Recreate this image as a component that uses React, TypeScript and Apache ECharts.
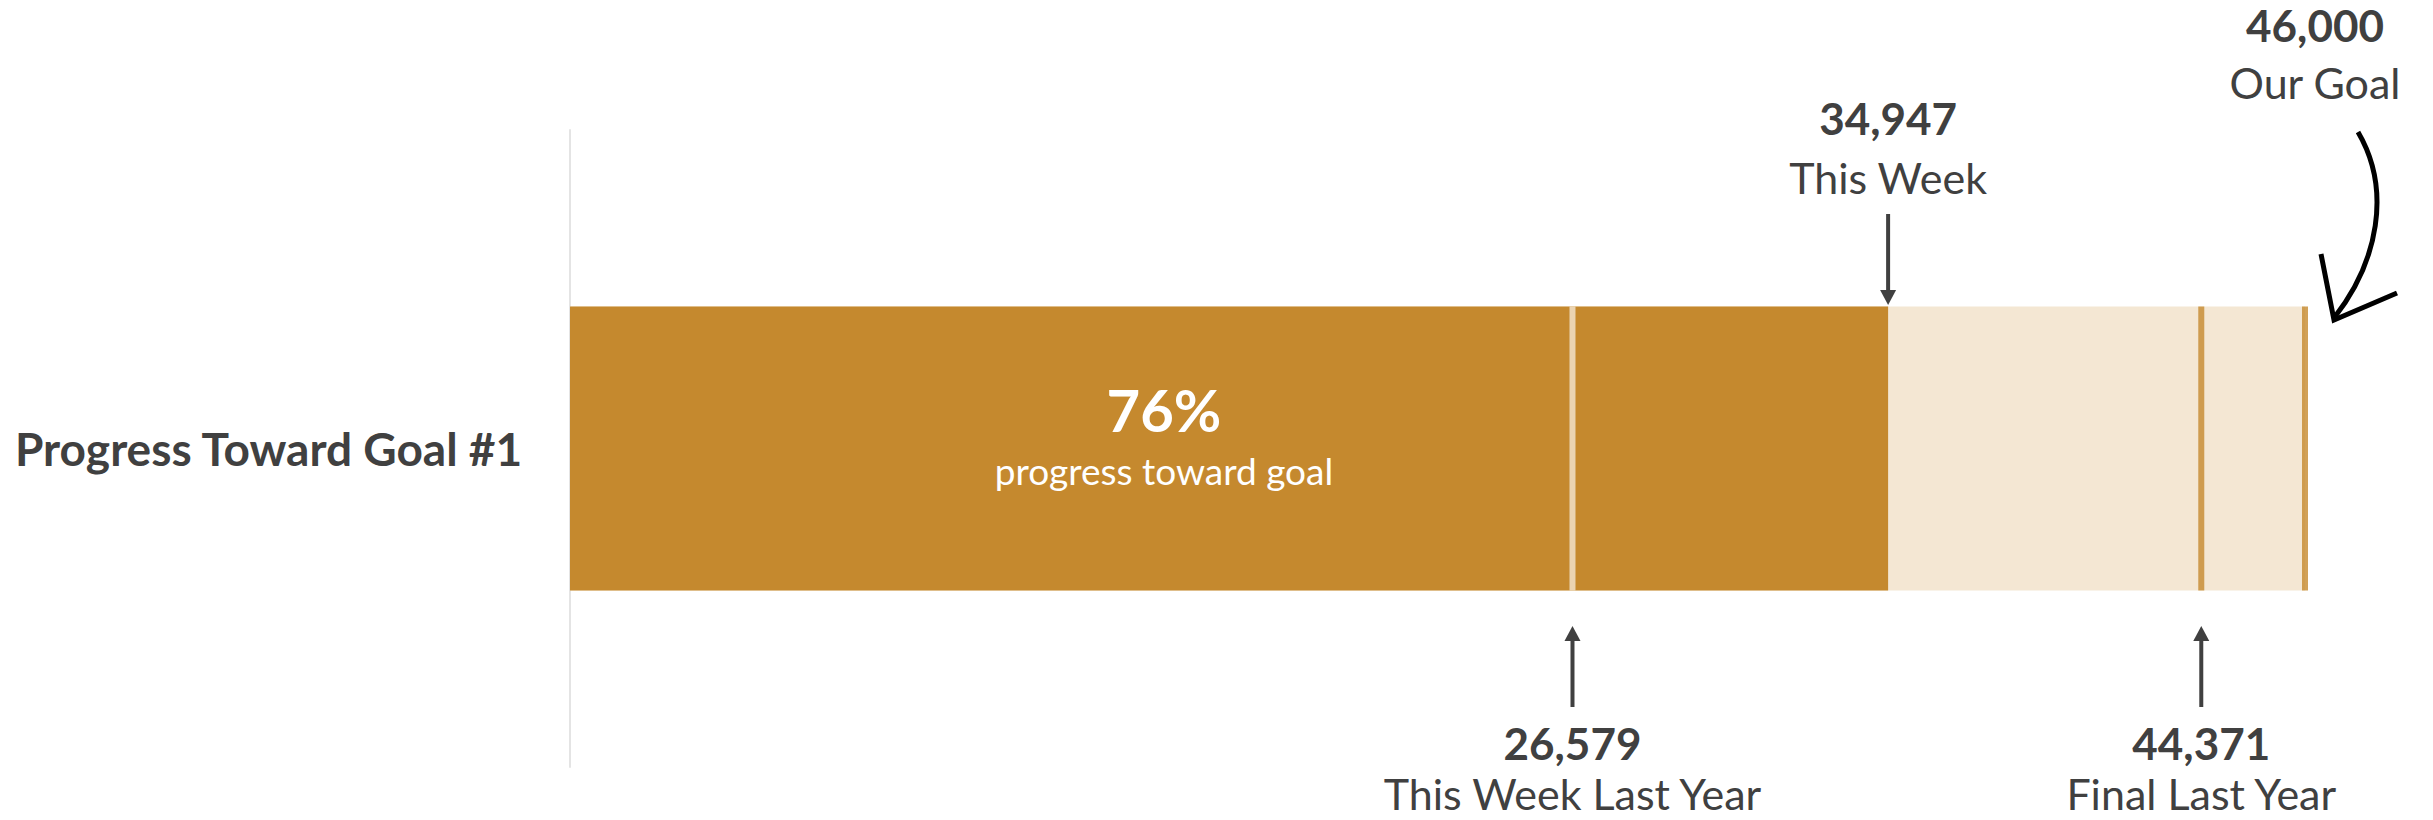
import React, { useEffect, useRef } from "react";
import * as echarts from "echarts";

// ---- data ----
const categories = ["Progress Toward Goal #1"];
const goalValue = 46000;
const thisWeekValue = 34947;
const thisWeekLastYearValue = 26579;
// marker is drawn at this position in the reference (label reads 44,371)
const finalLastYearPosition = 43250;
const finalLastYearLabel = 44371;
const progressPct = 76;

const DARK = "#C5892E";
const LIGHT = "#F4E7D3";
const TEXT = "#404040";
const FONT = "Lato, 'Open Sans', sans-serif";

const fmt = (v: number) => v.toLocaleString("en-US");

export default function App() {
  const ref = useRef<HTMLDivElement>(null);
  useEffect(() => {
    if (!ref.current) return;
    const chart = echarts.init(ref.current, undefined, { renderer: "svg" });
    chart.setOption({
      animation: false,
      grid: { left: 570, right: 128, top: 130, bottom: 53 },
      xAxis: {
        type: "value",
        min: 0,
        max: goalValue,
        show: false,
      },
      yAxis: {
        type: "category",
        data: categories,
        axisTick: { show: false },
        axisLine: { show: true, lineStyle: { color: "#e4e4e4", width: 2 } },
        axisLabel: {
          align: "left",
          margin: 555,
          fontFamily: FONT,
          fontWeight: "bold",
          fontSize: 46,
          color: TEXT,
        },
      },
      series: [
        {
          type: "bar",
          data: [goalValue],
          barWidth: 284,
          itemStyle: { color: LIGHT },
          z: 1,
        },
        {
          type: "bar",
          data: [thisWeekValue],
          barWidth: 284,
          barGap: "-100%",
          itemStyle: { color: DARK },
          z: 2,
        },
        {
          type: "scatter",
          symbol: "rect",
          symbolSize: [6, 284],
          z: 3,
          data: [
            { value: [thisWeekLastYearValue, 0], itemStyle: { color: LIGHT } },
            { value: [finalLastYearPosition, 0], itemStyle: { color: DARK } },
            { value: [goalValue, 0], itemStyle: { color: DARK } },
          ],
        },
      ],
    });

    const px = (v: number) => chart.convertToPixel({ gridIndex: 0 }, [v, 0]) as number[];
    const wk = px(thisWeekValue)[0];
    const ly = px(thisWeekLastYearValue)[0];
    const fl = px(finalLastYearPosition)[0];
    const gx = px(goalValue)[0];
    const barTop = 306;
    const barBot = 590;

    const numFont = `bold 44px ${FONT}`;
    const descFont = `normal 43px ${FONT}`;
    const txt = (text: string, x: number, y: number, font: string, fill = TEXT) => ({
      type: "text",
      z: 100,
      style: { text, x, y, font, fill, align: "center", verticalAlign: "middle" },
    });
    const arrowDown = (x: number, y1: number, y2: number) => [
      { type: "line", z: 100, shape: { x1: x, y1, x2: x, y2: y2 - 12 }, style: { stroke: TEXT, lineWidth: 4 } },
      { type: "polygon", z: 100, shape: { points: [[x - 8, y2 - 15], [x + 8, y2 - 15], [x, y2]] }, style: { fill: TEXT } },
    ];
    const arrowUp = (x: number, y1: number, y2: number) => [
      { type: "line", z: 100, shape: { x1: x, y1: y1 + 12, x2: x, y2 }, style: { stroke: TEXT, lineWidth: 4 } },
      { type: "polygon", z: 100, shape: { points: [[x - 8, y1 + 15], [x + 8, y1 + 15], [x, y1]] }, style: { fill: TEXT } },
    ];

    chart.setOption({
      graphic: [
        txt(`${progressPct}%`, 1164, 409, `bold 58px ${FONT}`, "#ffffff"),
        txt("progress toward goal", 1164, 470, `normal 37px ${FONT}`, "#ffffff"),
        txt(fmt(thisWeekValue), wk, 118, numFont),
        txt("This Week", wk, 177, descFont),
        ...arrowDown(wk, 214, barTop - 1),
        txt(fmt(goalValue), gx + 10, 25, numFont),
        txt("Our Goal", gx + 10, 82, descFont),
        {
          type: "bezierCurve",
          z: 100,
          shape: {
            x1: gx + 53, y1: 132,
            cpx1: gx + 87, cpy1: 190,
            cpx2: gx + 73, cpy2: 262,
            x2: gx + 29, y2: 318,
          },
          style: { stroke: "#000", lineWidth: 5, fill: "none" },
        },
        {
          type: "polyline",
          z: 100,
          shape: { points: [[gx + 16, 254], [gx + 29, 320], [gx + 92, 293]] },
          style: { stroke: "#000", lineWidth: 5, fill: "none" },
        },
        ...arrowUp(ly, barBot + 36, 707),
        txt(fmt(thisWeekLastYearValue), ly, 743, numFont),
        txt("This Week Last Year", ly, 793, descFont),
        ...arrowUp(fl, barBot + 36, 707),
        txt(fmt(finalLastYearLabel), fl, 743, numFont),
        txt("Final Last Year", fl, 793, descFont),
      ],
    });
    return () => chart.dispose();
  }, []);
  return (
    <div
      ref={ref}
      style={{ position: "absolute", left: 0, top: 0, width: 2433, height: 820, background: "#fff" }}
    />
  );
}
